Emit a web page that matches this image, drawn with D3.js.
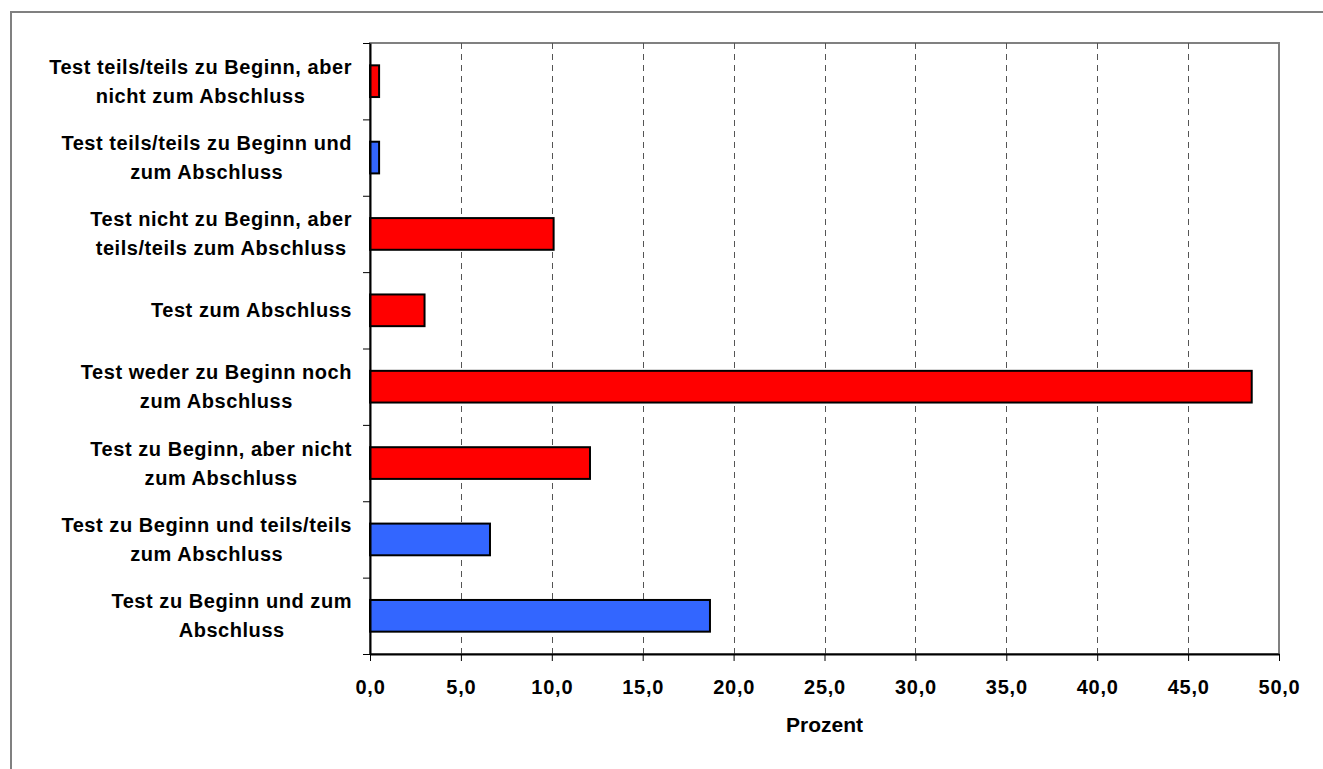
<!DOCTYPE html>
<html>
<head>
<meta charset="utf-8">
<script src="https://cdn.jsdelivr.net/npm/d3@7"></script>
<style>
  html, body { margin: 0; padding: 0; background: #fff; }
  svg { display: block; }
  text { font-family: "Liberation Sans", Arial, sans-serif; font-weight: bold; fill: #000; }
</style>
</head>
<body>
<svg id="chart" width="1323" height="769"></svg>
<script>
// Category labels, each split into its display lines (top to bottom)
const categories = [
  ["Test teils/teils zu Beginn, aber", "nicht zum Abschluss"],
  ["Test teils/teils zu Beginn und", "zum Abschluss"],
  ["Test nicht zu Beginn, aber", "teils/teils zum Abschluss"],
  ["Test zum Abschluss"],
  ["Test weder zu Beginn noch", "zum Abschluss"],
  ["Test zu Beginn, aber nicht", "zum Abschluss"],
  ["Test zu Beginn und teils/teils", "zum Abschluss"],
  ["Test zu Beginn und zum", "Abschluss"]
];
// Share in percent per category
const values = [0.5, 0.5, 10.1, 3.0, 48.5, 12.1, 6.6, 18.7];
// Group of each bar: "b" = blue series, "r" = red series
const groups = ["r", "b", "r", "r", "r", "r", "b", "b"];
const xTicks = [0, 5, 10, 15, 20, 25, 30, 35, 40, 45, 50];
const xTitle = "Prozent";

const colors = { r: "#ff0000", b: "#3366ff" };
const svg = d3.select("#chart");

const plot = { left: 370, right: 1279, top: 43, bottom: 654 };

const x = d3.scaleLinear().domain([0, 50]).range([plot.left, plot.right]);
const idx = d3.range(categories.length);
const y = d3.scaleBand().domain(idx).range([plot.top, plot.bottom])
  .paddingInner(0.585).paddingOuter(0.2925);
const yEdge = d3.scaleLinear().domain([0, categories.length]).range([plot.top, plot.bottom]);

// outer chart frame (extends past right and bottom edges)
svg.append("rect")
  .attr("x", 11).attr("y", 12).attr("width", 1330).attr("height", 780)
  .attr("fill", "none").attr("stroke", "#808080").attr("stroke-width", 2);

// plot area border
svg.append("rect")
  .attr("x", plot.left).attr("y", plot.top)
  .attr("width", plot.right - plot.left).attr("height", plot.bottom - plot.top)
  .attr("fill", "#fff").attr("stroke", "#808080").attr("stroke-width", 2);

// dashed vertical gridlines
svg.append("g").selectAll("line")
  .data(xTicks.filter(d => d > 0 && d < 50))
  .join("line")
  .attr("x1", d => Math.round(x(d)) + 0.5).attr("x2", d => Math.round(x(d)) + 0.5)
  .attr("y1", plot.top).attr("y2", plot.bottom)
  .attr("stroke", "#555").attr("stroke-width", 1)
  .attr("stroke-dasharray", "6,5");

// bars
svg.append("g").selectAll("rect")
  .data(idx)
  .join("rect")
  .attr("x", x(0))
  .attr("y", i => y(i))
  .attr("width", i => x(values[i]) - x(0))
  .attr("height", y.bandwidth())
  .attr("fill", i => colors[groups[i]])
  .attr("stroke", "#000").attr("stroke-width", 2);

// bottom axis
const xAxis = d3.axisBottom(x).tickValues(xTicks).tickSize(7).tickSizeOuter(0)
  .tickFormat(d => d3.format(".1f")(d).replace(".", ","));
const gx = svg.append("g").attr("transform", `translate(0,${plot.bottom})`).call(xAxis);
gx.select(".domain").attr("stroke", "#000").attr("stroke-width", 2);
gx.selectAll(".tick line").attr("stroke", "#000").attr("stroke-width", 1);
gx.selectAll(".tick text")
  .attr("y", 40).attr("dy", 0)
  .style("font-size", "20px").style("letter-spacing", "0.75px")
  .style("font-family", '"Liberation Sans", Arial, sans-serif')
  .style("font-weight", "bold").attr("fill", "#000");

// left axis: ticks on band boundaries
const yAxis = d3.axisLeft(yEdge).tickValues(d3.range(categories.length + 1))
  .tickSize(7).tickSizeOuter(0).tickFormat("");
const gy = svg.append("g").attr("transform", `translate(${plot.left},0)`).call(yAxis);
gy.select(".domain").attr("stroke", "#000").attr("stroke-width", 2);
gy.selectAll(".tick line").attr("stroke", "#000").attr("stroke-width", 1);

// category labels: block right-aligned, lines centred within the block
const labelRight = 352;
const lineH = 29;
const lab = svg.append("g").selectAll("g").data(idx).join("g");
lab.each(function (i) {
  const g = d3.select(this);
  const lines = categories[i];
  const cy = y(i) + y.bandwidth() / 2;
  const texts = g.selectAll("text").data(lines).join("text")
    .attr("text-anchor", "middle")
    .style("font-size", "20px")
    .style("letter-spacing", "0.55px")
    .attr("y", (d, k) => cy + (k - (lines.length - 1) / 2) * lineH)
    .attr("dy", "0.35em")
    .text(d => d);
  let maxW = 0;
  texts.each(function () { maxW = Math.max(maxW, this.getComputedTextLength()); });
  texts.attr("x", labelRight - maxW / 2);
});

// axis title
svg.append("text")
  .attr("x", (plot.left + plot.right) / 2).attr("y", 732)
  .attr("text-anchor", "middle")
  .style("font-size", "21px")
  .text(xTitle);
</script>
</body>
</html>
